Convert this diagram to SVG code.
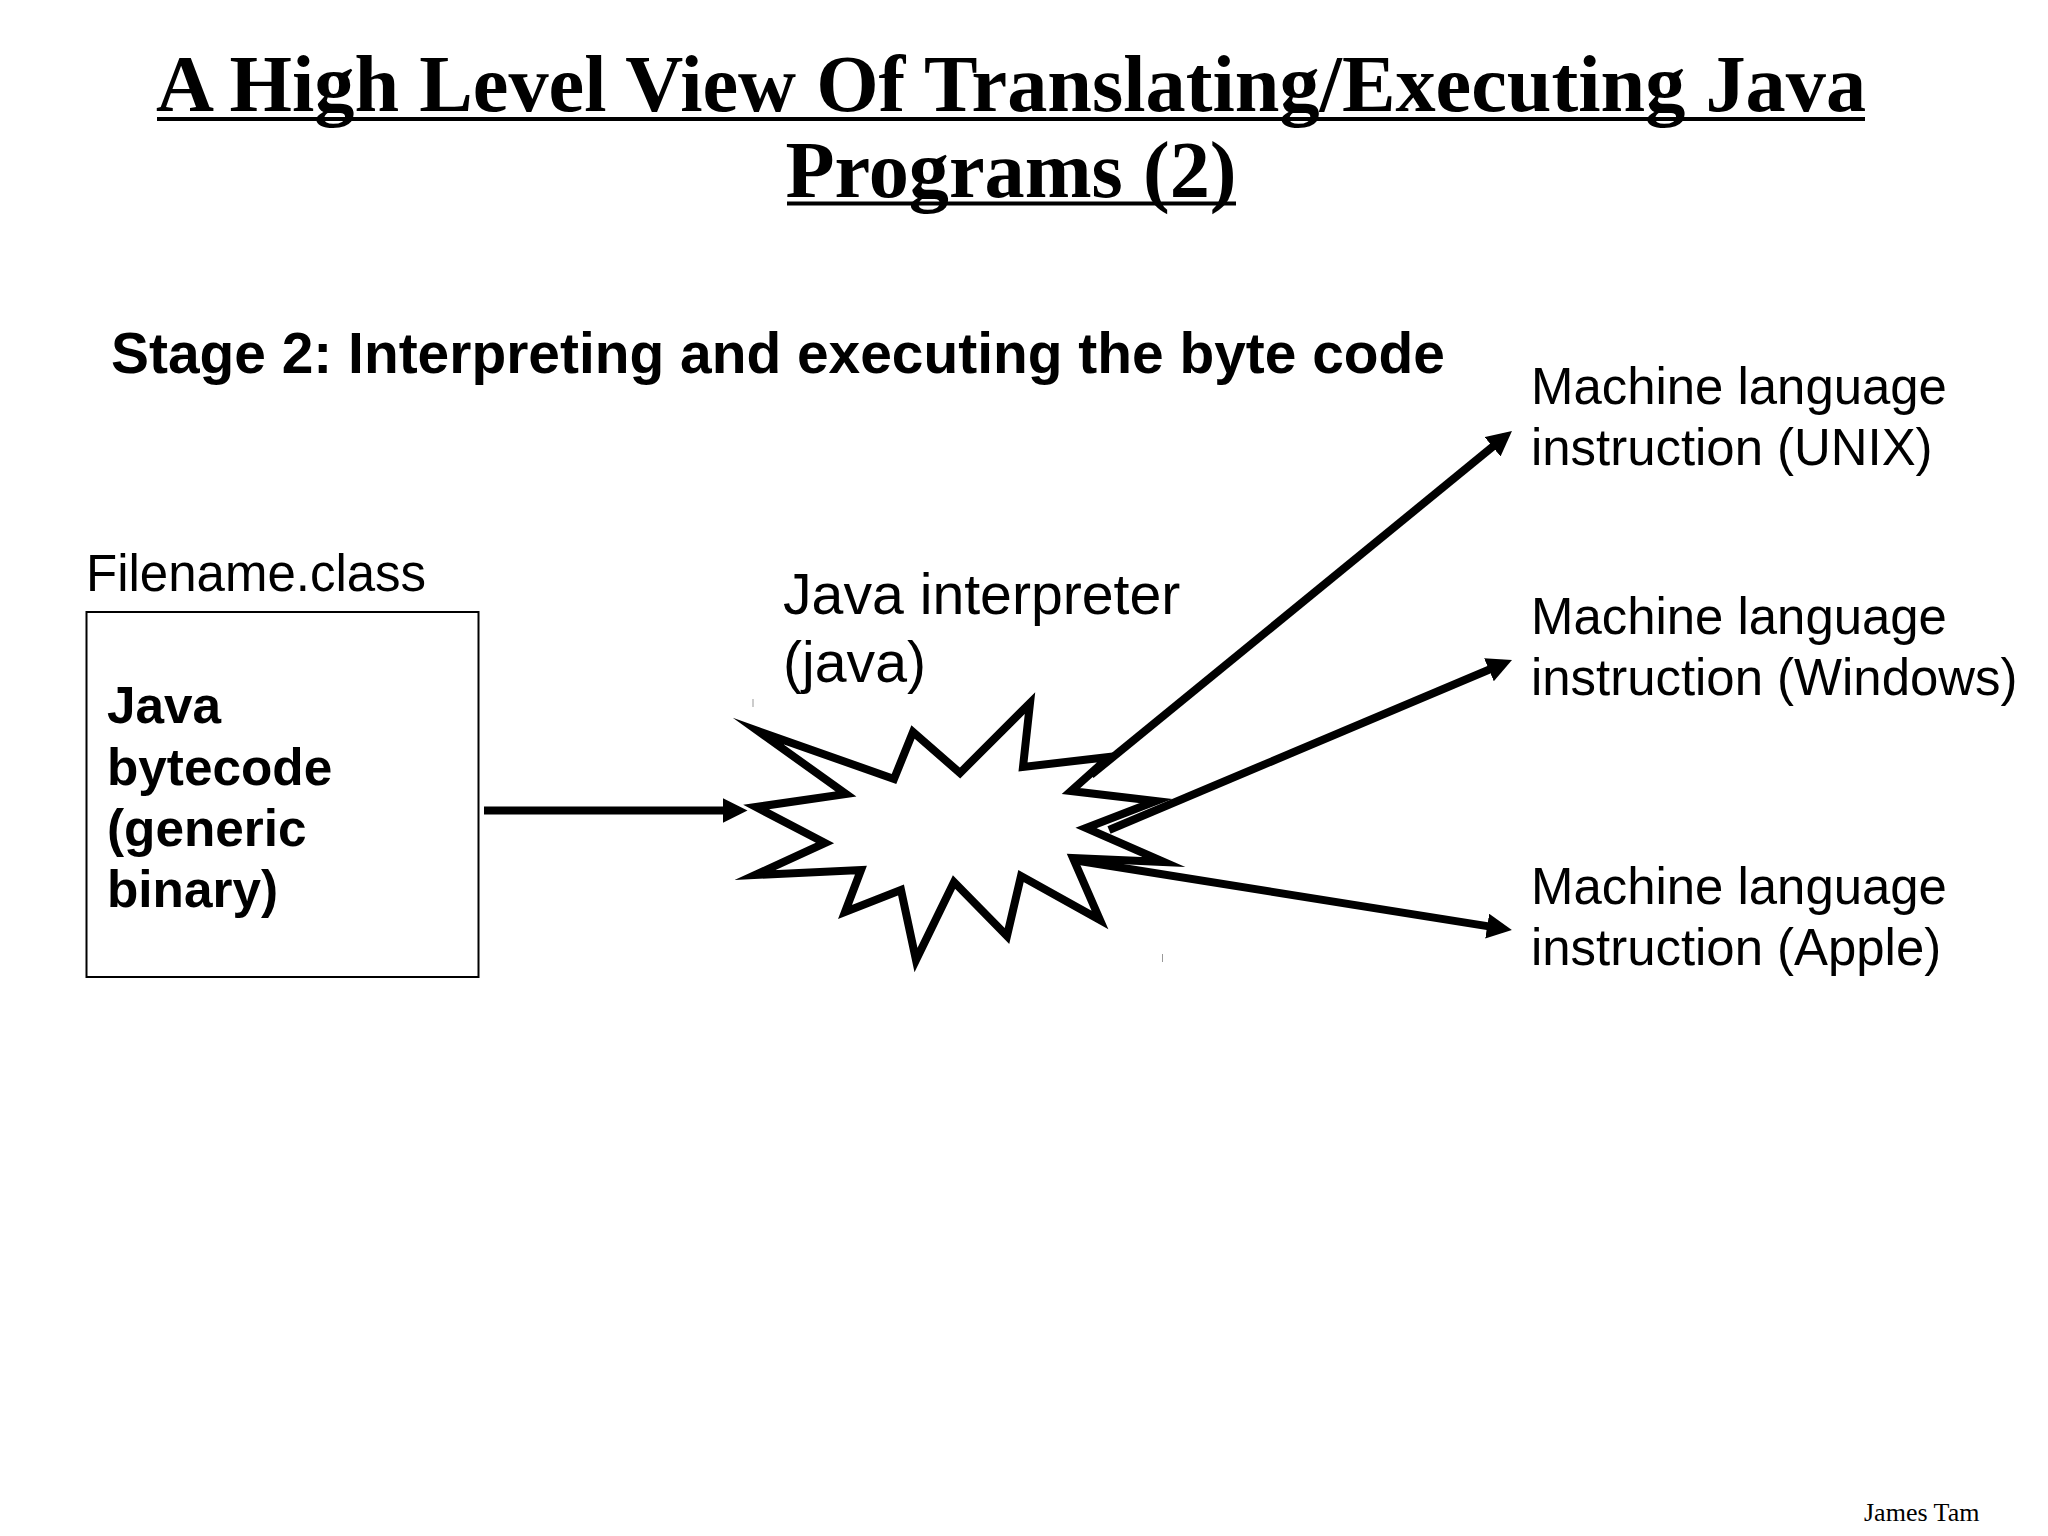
<svg xmlns="http://www.w3.org/2000/svg" width="2048" height="1536" viewBox="0 0 2048 1536">
<style>
.sans{font-family:"Liberation Sans",Arial,sans-serif;fill:#000}
.b{font-weight:700}
.title{font-family:"Liberation Serif","Times New Roman",serif;font-weight:700;font-size:80.300px;text-anchor:middle;fill:#000}
.m{font-size:50.900px}
.conn{stroke:#000;stroke-width:8;fill:none;marker-end:url(#ah)}
</style>
<defs>
<marker id="ah" markerUnits="userSpaceOnUse" markerWidth="26" markerHeight="26" refX="16" refY="12.5" orient="auto"><path d="M0 0L25 12.5L0 25Z" fill="#000"/></marker>
</defs>
<rect width="2048" height="1536" fill="#fff"/>
<g id="title">
<text class="title" x="1011" y="111">A High Level View Of Translating/Executing Java</text>
<text class="title" x="1011" y="197">Programs (2)</text>
<path d="M157 119H1865M787 203.500H1236" stroke="#000" stroke-width="4" fill="none"/>
</g>
<text id="stage" class="sans b" x="111" y="373" font-size="56.900">Stage 2: Interpreting and executing the byte code</text>
<g id="file">
<text class="sans" x="86" y="591" font-size="51">Filename.class</text>
<rect x="86.500" y="612" width="392" height="365" fill="#fff" stroke="#000" stroke-width="2"/>
<g class="sans b" font-size="51.300">
<text x="107" y="723">Java</text>
<text x="107" y="785">bytecode</text>
<text x="107" y="846">(generic</text>
<text x="107" y="907">binary)</text>
</g>
</g>
<g id="interpreter">
<text class="sans" x="783" y="614" font-size="57.200">Java interpreter</text>
<text class="sans" x="783" y="682" font-size="57.200">(java)</text>
<path d="M753 699V707M1162.500 954V962" stroke="#999" stroke-width="1"/>
<polygon fill="#fff" stroke="#000" stroke-width="8" stroke-miterlimit="12" points="758,731 894,779 913,732 960,773 1030,703 1023,767 1109,757 1071,791 1156,801 1086,828 1164,862 1073,858 1100,920 1021,876 1007,936 954,882 916,960 901,890 845,912 861,870 755,875 825,843 756,807 846,794"/>
</g>
<g id="connectors">
<line class="conn" x1="484" y1="810.500" x2="738.500" y2="810.500"/>
<line class="conn" x1="1091" y1="775" x2="1505" y2="436.700"/>
<line class="conn" x1="1109" y1="830" x2="1503.700" y2="663.500"/>
<line class="conn" x1="1073" y1="860" x2="1503" y2="928.600"/>
</g>
<g id="out-unix" class="sans m">
<text x="1531" y="404">Machine language</text>
<text x="1531" y="465">instruction (UNIX)</text>
</g>
<g id="out-windows" class="sans m">
<text x="1531" y="634">Machine language</text>
<text x="1531" y="695">instruction (Windows)</text>
</g>
<g id="out-apple" class="sans m">
<text x="1531" y="904">Machine language</text>
<text x="1531" y="965">instruction (Apple)</text>
</g>
<text id="author" x="1864" y="1521" font-family="Liberation Serif,Times New Roman,serif" font-size="26" fill="#000">James Tam</text>
</svg>
